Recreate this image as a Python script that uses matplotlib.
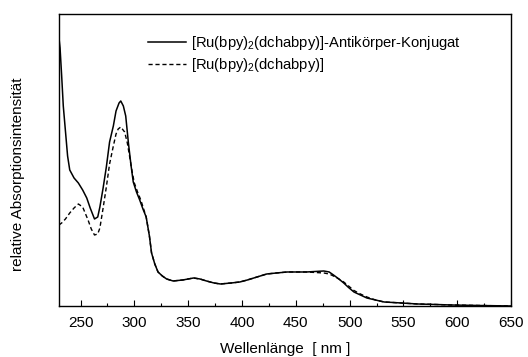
import matplotlib
matplotlib.use("Agg")
import matplotlib.pyplot as plt
from matplotlib.ticker import MultipleLocator

plt.rcParams['font.family'] = ['Liberation Sans', 'DejaVu Sans']
plt.rcParams['mathtext.fontset'] = 'custom'
plt.rcParams['mathtext.rm'] = 'Liberation Sans'
plt.rcParams['mathtext.it'] = 'Liberation Sans'

# Conjugate (solid)
wl_conj = [230, 231, 232.5, 234, 235.6, 238, 240, 244, 248, 252, 255.8, 259, 263, 266, 268, 271, 274, 277,
           280.5, 283, 285.8, 287.4, 289.8, 292, 294.5, 297, 299, 302, 305, 308, 311, 314, 316,
           319, 322, 326, 330, 336, 345, 355, 361, 367, 374, 380, 390, 398, 405, 411, 417,
           423, 432, 442, 451, 460, 468, 476, 481, 485, 490, 494.5, 499, 504, 510, 516, 524,
           532, 548, 563, 580, 594, 620, 650]
abs_conj = [268, 258, 230, 200, 180, 150, 136, 128, 123, 116, 108, 98, 87, 89, 99, 118, 139, 164,
            180, 195, 203, 205, 200, 190, 163, 140, 124, 114, 106, 97, 89, 70, 53,
            42, 34, 30, 27, 25, 26, 28, 27, 25, 23, 22, 23, 24, 26, 28, 30,
            32, 33, 34, 34, 34, 34.5, 35, 34, 31, 27, 23, 18.5, 14, 11, 8, 6,
            4, 3, 2, 1.5, 1, 0.5, 0]

# Free complex (dashed)
wl_free = [230, 232.5, 236, 240, 244, 248, 252, 257, 260, 263, 266, 268, 271, 274, 277, 280.5,
           283, 285, 287.4, 291, 293.5, 295.7, 298, 300, 303, 306, 311, 314, 316, 319, 322,
           326, 330, 336, 345, 355, 361, 367, 374, 380, 390, 398, 405, 411, 417, 423, 432,
           442, 451, 460, 468, 476, 481, 485, 490, 494.5, 499, 504, 510, 516, 524, 532, 548,
           563, 580, 594, 620, 650]
abs_free = [81, 83, 87, 93, 98, 102, 99, 86, 77, 71, 72, 78, 98, 119, 142, 160,
            172, 177, 179, 174, 163, 149, 134, 123, 114, 106, 89, 70, 53, 42, 34,
            30, 27, 25, 26, 28, 27, 25, 23, 22, 23, 24, 26, 28, 30, 32, 33,
            34, 34, 34, 33.5, 33, 32, 30, 27, 24, 20, 15.5, 12, 9, 6, 4, 3,
            2, 1.5, 1, 0.5, 0]

xticks = [250, 300, 350, 400, 450, 500, 550, 600, 650]
label_conj = r'[Ru(bpy)$_2$(dchabpy)]-Antikörper-Konjugat'
label_free = r'[Ru(bpy)$_2$(dchabpy)]'

fig = plt.figure(figsize=(5.28, 3.57), dpi=100)
ax = fig.add_axes([0.1117, 0.1429, 0.8563, 0.8179])

ax.plot(wl_conj, abs_conj, color='black', lw=1.1, label=label_conj)
ax.plot(wl_free, abs_free, color='black', lw=1.0, ls=(0, (3, 2)), label=label_free)

ax.set_xlim(230, 650)
ax.set_ylim(0, 292)
ax.set_xticks(xticks)
ax.xaxis.set_minor_locator(MultipleLocator(25))
ax.tick_params(axis='x', which='both', direction='in', top=False, labelsize=11, pad=7)
ax.tick_params(axis='x', which='major', length=4, width=0.8)
ax.tick_params(axis='x', which='minor', length=2.5, width=0.8)
ax.set_yticks([])
for s in ax.spines.values():
    s.set_linewidth(1.0)

ax.set_xlabel('Wellenlänge  [ nm ]', fontsize=11, labelpad=9)
ax.set_ylabel('relative Absorptionsintensität', fontsize=11)
ax.yaxis.set_label_coords(-0.075, 0.45)

leg = ax.legend(loc='upper left', bbox_to_anchor=(0.197, 0.93), frameon=False,
                fontsize=10.6, handlelength=2.6, handletextpad=0.35, labelspacing=0.25,
                borderaxespad=0, borderpad=0)

fig.savefig('out.png', dpi=100)
